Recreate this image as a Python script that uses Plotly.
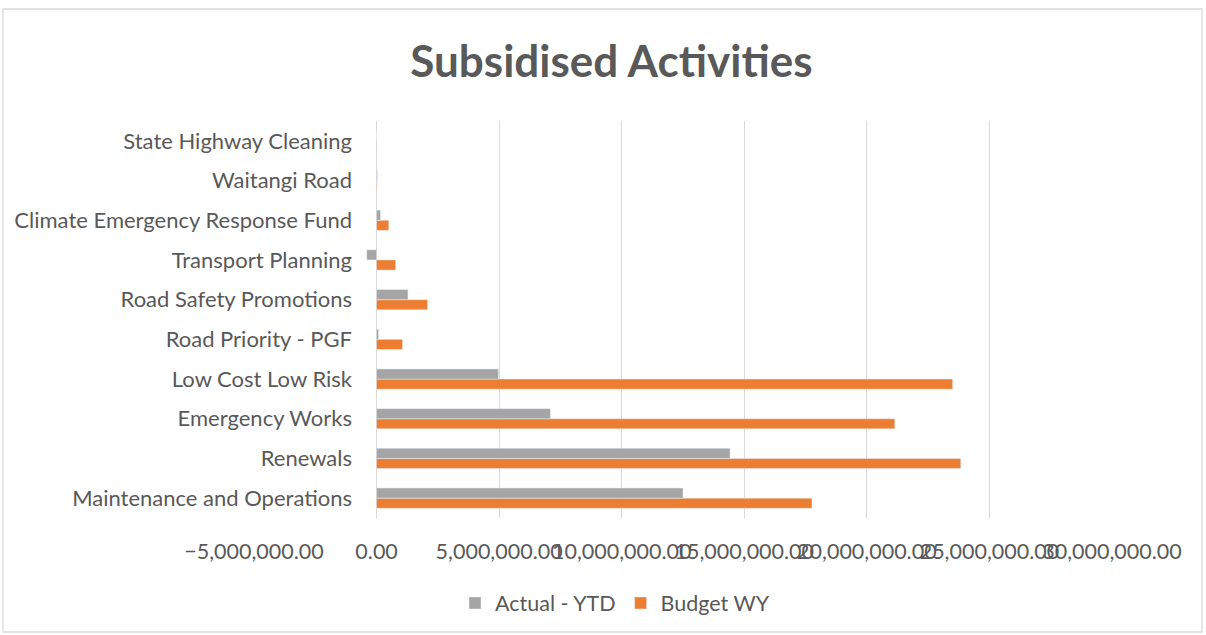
import plotly.graph_objects as go

categories = ["Maintenance and Operations", "Renewals", "Emergency Works", "Low Cost Low Risk",
              "Road Priority - PGF", "Road Safety Promotions", "Transport Planning",
              "Climate Emergency Response Fund", "Waitangi Road", "State Highway Cleaning"]
actual_ytd = [12500000, 14420000, 7090000, 4970000, 80000, 1280000, -400000, 160000, 30000, 0]
budget_wy = [17760000, 23830000, 21140000, 23500000, 1060000, 2080000, 780000, 500000, 20000, 15000]

GRAY = "#A5A5A5"
ORANGE = "#ED7D31"
TXT = "#595959"
FONT = "Lato"

fig = go.Figure()
fig.add_trace(go.Bar(y=categories, x=budget_wy, orientation="h", name="Budget WY",
                     marker_color=ORANGE, legendrank=2))
fig.add_trace(go.Bar(y=categories, x=actual_ytd, orientation="h", name="Actual - YTD",
                     marker_color=GRAY, legendrank=1))

L, R, T, B = 254, 94, 121, 117
pw = 1206 - L - R
ph = 635 - T - B

def px(xp):
    return (xp - L) / pw

def py(yp):
    return (635 - B - yp) / ph

fig.update_layout(
    width=1206, height=635,
    margin=dict(l=L, r=R, t=T, b=B, autoexpand=False),
    paper_bgcolor="white", plot_bgcolor="white",
    barmode="group", bargap=0.49, bargroupgap=0.0,
    font=dict(family=FONT, color=TXT),
    title=dict(text="<b>Subsidised Activities</b>", x=0.507, xanchor="center",
               y=1 - 62 / 635, yanchor="middle", font=dict(size=44, color=TXT, family=FONT)),
    xaxis=dict(range=[-5000000, 30000000], dtick=5000000, tick0=0, tickformat=",.2f",
               showgrid=True, gridcolor="#D9D9D9", gridwidth=1.3,
               zeroline=True, zerolinecolor="#D9D9D9", zerolinewidth=1.3,
               showline=False, tickfont=dict(size=21.5, color=TXT), ticks="",
               tickangle=0, automargin=False, ticklabeloverflow="allow",
               ticklabelstandoff=18),
    yaxis=dict(showgrid=False, showline=False, zeroline=False, ticks="",
               tickfont=dict(size=22, color=TXT), ticklabelstandoff=-99, automargin=False),
    legend=dict(orientation="h", x=px(615), xanchor="center", y=py(603), yanchor="middle",
                font=dict(size=21.5, color=TXT), traceorder="normal"),
    shapes=[dict(type="rect", xref="paper", yref="paper",
                 x0=px(3), x1=px(1202), y0=py(632), y1=py(9),
                 line=dict(color="#D9D9D9", width=1.3), fillcolor="rgba(0,0,0,0)", layer="below")],
)

fig.write_html("out.html", config={"displayModeBar": False},
               post_script="document.body.style.margin='0';")
